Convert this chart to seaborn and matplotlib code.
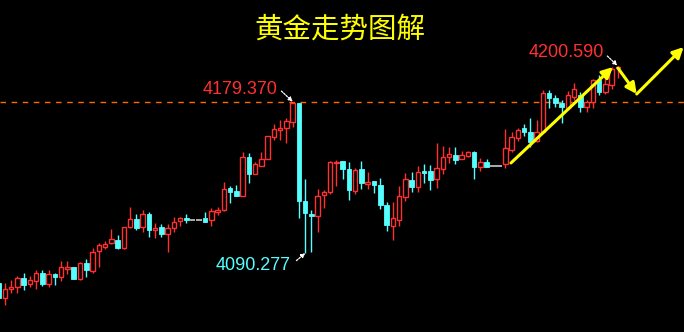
import numpy as np
import pandas as pd
import matplotlib
matplotlib.use("Agg")
import matplotlib.pyplot as plt
import seaborn as sns

# ---- data (gold price candles) ----
opens = [4072.6, 4063.7, 4069.0, 4070.2, 4075.5, 4072.0, 4073.8, 4078.5, 4072.0, 4077.9,
         4076.1, 4080.8, 4082.0, 4074.9, 4084.4, 4079.7, 4091.5, 4093.8, 4096.2, 4098.0,
         4093.2, 4105.6, 4110.3, 4105.6, 4113.3, 4103.9, 4105.6, 4101.5, 4105.0, 4109.2,
         4110.9, 4109.8, 4109.8, 4110.9, 4109.8, 4114.5, 4115.7, 4128.6, 4126.9, 4123.9,
         4146.9, 4136.9, 4141.6, 4145.7, 4158.7, 4162.9, 4164.0, 4167.6, 4178.8, 4121.0,
         4113.3, 4112.1, 4124.5, 4126.3, 4143.4, 4144.6, 4139.8, 4126.9, 4139.8, 4131.0,
         4132.8, 4130.4, 4118.6, 4106.2, 4109.8, 4123.3, 4133.4, 4129.2, 4138.7, 4138.7,
         4133.9, 4139.8, 4146.9, 4148.1, 4145.7, 4147.5, 4149.9, 4141.0, 4144.0, 4141.6,
         4141.6, 4142.8, 4151.1, 4158.1, 4164.0, 4161.7, 4156.4, 4161.7, 4184.7, 4181.7,
         4178.8, 4175.8, 4182.3, 4183.5, 4176.4, 4179.4, 4192.4, 4185.3, 4189.4, 4199.4]
highs = [4074.4, 4072.6, 4074.4, 4076.7, 4078.5, 4076.7, 4080.3, 4080.3, 4080.3, 4078.5,
         4085.6, 4085.6, 4082.0, 4085.0, 4086.7, 4093.2, 4096.2, 4097.4, 4104.4, 4100.9,
         4105.6, 4117.4, 4113.3, 4115.7, 4114.5, 4108.0, 4107.4, 4107.4, 4111.5, 4111.5,
         4113.3, 4109.8, 4109.8, 4114.5, 4116.8, 4117.4, 4132.2, 4129.8, 4130.4, 4149.9,
         4149.3, 4144.0, 4149.9, 4159.3, 4166.4, 4168.8, 4169.9, 4179.37, 4179.0, 4133.9,
         4115.7, 4128.0, 4127.5, 4144.6, 4145.2, 4144.6, 4144.0, 4140.4, 4144.6, 4138.1,
         4132.8, 4134.5, 4120.4, 4120.4, 4129.8, 4137.5, 4138.1, 4141.6, 4142.8, 4142.2,
         4155.2, 4153.4, 4152.8, 4152.8, 4150.5, 4150.5, 4150.5, 4146.3, 4145.7, 4141.6,
         4141.6, 4163.4, 4161.7, 4164.0, 4166.4, 4169.9, 4168.8, 4186.5, 4186.5, 4183.5,
         4180.6, 4185.9, 4190.6, 4185.3, 4180.6, 4192.9, 4195.3, 4196.5, 4200.0, 4200.59]
lows = [4062.6, 4059.6, 4066.7, 4066.7, 4068.5, 4070.2, 4069.0, 4070.8, 4070.2, 4071.4,
        4073.8, 4077.9, 4074.9, 4074.4, 4076.1, 4078.5, 4082.0, 4092.6, 4095.6, 4092.6,
        4092.6, 4105.0, 4103.9, 4102.7, 4099.7, 4099.1, 4099.7, 4090.9, 4102.7, 4106.2,
        4108.0, 4109.8, 4109.8, 4108.6, 4106.2, 4112.7, 4115.1, 4119.8, 4123.9, 4123.9,
        4131.6, 4136.9, 4141.6, 4145.7, 4157.0, 4157.0, 4155.2, 4164.6, 4110.9, 4090.277,
        4090.9, 4102.7, 4116.8, 4125.1, 4129.8, 4133.9, 4121.6, 4125.1, 4128.0, 4128.0,
        4125.7, 4116.2, 4103.3, 4098.0, 4106.2, 4121.0, 4126.3, 4126.3, 4131.6, 4127.5,
        4128.6, 4136.9, 4143.4, 4142.8, 4145.7, 4146.9, 4133.9, 4138.7, 4141.0, 4141.6,
        4141.6, 4140.4, 4149.9, 4156.4, 4159.3, 4152.8, 4155.8, 4161.7, 4175.8, 4176.4,
        4167.0, 4175.2, 4180.6, 4173.5, 4173.5, 4175.8, 4183.5, 4184.1, 4187.0, 4193.5]
closes = [4063.7, 4069.0, 4070.2, 4075.5, 4071.4, 4074.4, 4078.5, 4072.0, 4077.9, 4076.1,
          4082.0, 4082.0, 4074.9, 4084.4, 4080.3, 4090.9, 4095.0, 4095.6, 4098.5, 4093.2,
          4105.6, 4110.3, 4105.0, 4113.3, 4103.9, 4105.0, 4101.5, 4105.0, 4108.6, 4110.9,
          4109.8, 4109.8, 4109.8, 4108.6, 4115.1, 4115.7, 4128.0, 4126.3, 4123.9, 4146.9,
          4136.9, 4142.8, 4145.7, 4159.3, 4163.4, 4164.0, 4168.2, 4178.8, 4121.0, 4113.9,
          4112.1, 4123.9, 4126.3, 4144.0, 4144.0, 4139.8, 4127.5, 4139.3, 4131.6, 4132.2,
          4130.4, 4118.6, 4106.8, 4110.9, 4123.9, 4133.9, 4129.2, 4138.1, 4137.5, 4133.4,
          4140.4, 4146.9, 4148.7, 4145.2, 4148.1, 4149.9, 4141.0, 4144.0, 4141.0, 4141.6,
          4141.6, 4152.2, 4158.7, 4162.9, 4161.7, 4155.8, 4161.7, 4184.7, 4181.7, 4178.8,
          4176.4, 4183.5, 4187.0, 4176.4, 4179.4, 4192.4, 4185.3, 4190.0, 4198.8, 4200.0]
flat_bars = [31, 32, 79, 80]   # gray, no-trade placeholders

title_text = "黄金走势图解"
ref_level = 4179.37
high_label = "4200.590"
mid_label = "4179.370"
low_label = "4090.277"

# ---- style ----
sns.set_theme(style="dark", rc={"axes.facecolor": "black", "figure.facecolor": "black"})
plt.rcParams["font.family"] = ["Noto Sans CJK SC", "DejaVu Sans"]

df = pd.DataFrame({"o": opens, "h": highs, "l": lows, "c": closes})
df["i"] = np.arange(len(df))

RED = "#ff3030"
CYAN = "#55ffff"
GRAY = "#a8a8a8"

fig = plt.figure(figsize=(6.84, 3.32), dpi=100)
ax = fig.add_axes([0, 0, 1, 1])
ax.set_facecolor("black")

w = 0.72
for _, r in df.iterrows():
    i = int(r.i)
    if i in flat_bars:
        ax.bar(i, 0.7, bottom=r.o - 0.35, width=0.85, color=GRAY, linewidth=0, zorder=3)
        continue
    up = r.c >= r.o
    col = RED if up else CYAN
    ax.vlines(i, r.l, r.h, color=col, linewidth=1.0, zorder=2)
    lo, hi = min(r.o, r.c), max(r.o, r.c)
    hgt = max(hi - lo, 0.6)
    if up:
        ax.bar(i, hgt, bottom=lo, width=w, facecolor="black", edgecolor=col,
               linewidth=1.0, zorder=3)
    else:
        ax.bar(i, hgt, bottom=lo, width=w, facecolor=col, edgecolor=col,
               linewidth=0.6, zorder=3)

ax.axhline(ref_level, color="#ff6a00", linestyle=(0, (4, 4)), linewidth=1.0, zorder=1)

ax.set_xlim(0.21, 109.56)
ax.set_ylim(4043.67, 4239.55)
ax.set_xticks([])
ax.set_yticks([])
for s in ax.spines.values():
    s.set_visible(False)

# title
fig.text(0.497, 0.912, title_text, color="#ffff00", fontsize=20.5,
         ha="center", va="center", family=["Noto Sans CJK SC", "DejaVu Sans"])

# value labels
lab = dict(fontsize=13, family=["Liberation Sans", "DejaVu Sans"], va="center")
ax.text(44.6, 4186.8, mid_label, color=RED, ha="right", **lab)
ax.text(46.6, 4082.7, low_label, color=CYAN, ha="right", **lab)
ax.text(96.8, 4208.3, high_label, color=RED, ha="right", **lab)

arr_w = dict(arrowstyle="-|>", color="white", lw=0.9, mutation_scale=6,
             shrinkA=0, shrinkB=0, linestyle=(0, (1.5, 1)))
ax.annotate("", xy=(47.0, 4179.6), xytext=(45.2, 4185.8), arrowprops=arr_w)
ax.annotate("", xy=(49.0, 4090.2), xytext=(47.6, 4085.8), arrowprops=arr_w)
ax.annotate("", xy=(98.9, 4200.9), xytext=(97.3, 4206.5), arrowprops=arr_w)

# yellow trend arrows
arr_y = dict(arrowstyle="-|>", color="#ffff00", lw=2.2, mutation_scale=16,
             shrinkA=0, shrinkB=0)
ax.annotate("", xy=(98.2, 4200.0), xytext=(81.9, 4143.4), arrowprops=arr_y)
ax.annotate("", xy=(102.0, 4184.1), xytext=(99.0, 4199.4), arrowprops=arr_y)
ax.annotate("", xy=(109.5, 4211.8), xytext=(102.0, 4184.1), arrowprops=arr_y)

fig.savefig("out.png", dpi=100, facecolor="black")
